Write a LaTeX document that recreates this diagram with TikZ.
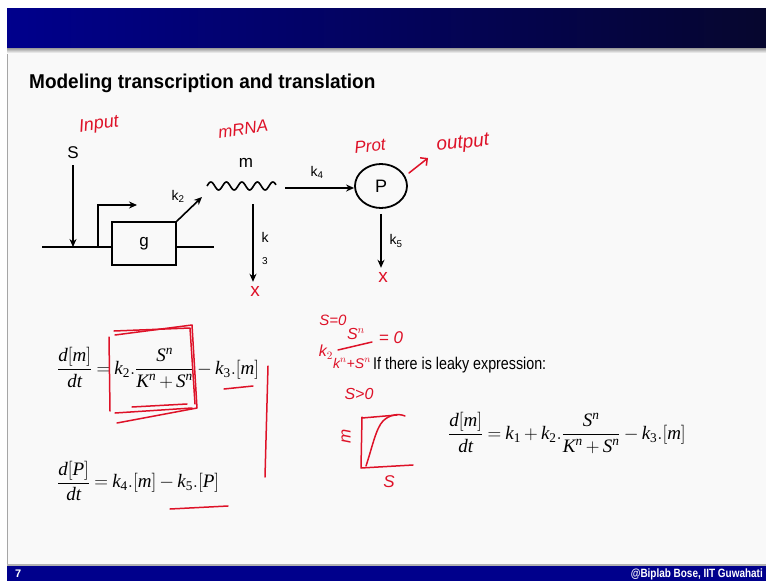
\RequirePackage{fix-cm}
\documentclass[tikz,border=0pt]{standalone}
\usepackage{amsmath}
\usepackage{graphicx}
\usepackage{fontspec}
\setmainfont{Liberation Sans}
\newfontfamily\eqfont{Liberation Serif}
\usetikzlibrary{arrows.meta,calc,shapes.geometric}
\definecolor{slideblue}{RGB}{0,0,140}
\definecolor{slidenavy}{RGB}{6,6,46}
\definecolor{inkred}{RGB}{222,18,40}
\definecolor{paper}{RGB}{249,249,249}
\newcommand{\vi}[1]{\textit{#1}}
\newcommand{\kk}[1]{\textit{k}_{\textup{#1}}}
\newcommand{\hill}{\dfrac{\vi{S}^{\vi{n}}}{\vi{K}^{\vi{n}}+\vi{S}^{\vi{n}}}}
\newcommand{\tightmath}{\medmuskip=3mu\relax\thickmuskip=4mu\relax}
\tikzset{
  wire/.style   = {line width=1.6pt},
  arr/.style    = {line width=1.6pt, -{Stealth[length=8pt,width=7pt]}},
  gbox/.style   = {draw, line width=1.6pt, fill=paper, minimum width=64pt,
                   minimum height=43pt, font=\fontsize{17}{17}\selectfont},
  pnode/.style  = {ellipse, draw, line width=1.8pt, fill=paper, minimum width=52pt,
                   minimum height=44pt, font=\fontsize{18}{18}\selectfont},
  lbl/.style    = {inner sep=0pt, font=\fontsize{17}{17}\selectfont},
  klbl/.style   = {inner sep=0pt, font=\fontsize{14}{14}\selectfont},
  eq/.style     = {inner sep=0pt, anchor=west, font=\eqfont\fontsize{19}{22}\selectfont},
  redpen/.style = {draw=inkred, line width=1.5pt, line cap=round, line join=round},
  hand/.style   = {text=inkred, inner sep=0pt, font=\itshape\fontsize{16}{16}\selectfont},
}

\begin{document}
\begin{tikzpicture}[x=1pt,y=-1pt]
  \useasboundingbox (0,0) rectangle (766,581);
  % slide frame
  \fill[white] (0,0) rectangle (766,581);
  \fill[paper] (7,48) rectangle (766,566);
  \draw[gray!70,line width=0.8pt] (7,48) -- (7,566);
  \shade[left color=slideblue,right color=slidenavy] (7,8) rectangle (766,48);
  \shade[top color=gray!80,bottom color=paper] (7,48) rectangle (766,53);
  \fill[gray!60] (7,564) rectangle (766,566);
  \fill[slideblue] (7,566) rectangle (766,581);
  \node[anchor=west,inner sep=0pt,text=white,font=\bfseries\fontsize{11}{11}\selectfont]
    (pageno) at (15,574) {7};
  \node[anchor=east,inner sep=0pt,text=white,font=\bfseries\fontsize{12}{12}\selectfont]
    (credit) at (763,574) {\scalebox{0.83}[1]{@Biplab Bose, IIT Guwahati}};
  \node[anchor=west,inner sep=0pt,font=\bfseries\fontsize{20}{20}\selectfont]
    (title) at (29,83) {\scalebox{0.95}[1]{Modeling transcription and translation}};

  % gene, mRNA and protein
  \coordinate (lineL) at (42,247);
  \coordinate (lineR) at (214,247);
  \draw[wire] (lineL) -- (lineR);
  \node[lbl] (S) at (73,153) {S};
  \coordinate (sfoot) at (73,247);
  \draw[arr] (S.south) ++(0,6) -- (sfoot);
  \coordinate (tss) at (98,247);
  \coordinate (tssup) at (98,205);
  \coordinate (tsshead) at (137,205);
  \draw[arr] (tss) -- (tssup) -- (tsshead);
  \node[gbox] (g) at (144,243.5) {g};
  \coordinate (mstart) at (202,197);
  \draw[arr] (g.north east) -- (mstart);
  \node[klbl] (k2) at (178,196) {k\textsubscript{2}};
  \node[lbl] (m) at (246,163) {m};
  \draw[wire] plot[domain=0:69,samples=90,smooth] ({207+\x},{186-4*sin((\x/15.5)*360)});
  \coordinate (mend) at (285,188);
  \node[pnode] (P) at (381,186) {P};
  \draw[arr] (mend) -- (P.west |- mend);
  \node[klbl] (k4) at (317,172) {k\textsubscript{4}};
  \coordinate (mdeg) at (253,204);
  \node[hand,font=\fontsize{19}{19}\selectfont] (xm) at (255,291) {x};
  \draw[arr] (mdeg) -- ($(xm.north)+(-2,-4)$);
  \node[klbl] (k3) at (265,237) {k};
  \node[inner sep=0pt,font=\fontsize{10}{10}\selectfont] (k3sub) at (265,261) {3};
  \node[hand,font=\fontsize{19}{19}\selectfont] (xp) at (383,277) {x};
  \draw[arr] ($(P.south)+(0,5)$) -- ($(xp.north)+(-2,-4)$);
  \node[klbl] (k5) at (396,241) {k\textsubscript{5}};

  % red notes on the diagram
  \node[hand,rotate=8,font=\itshape\fontsize{18}{18}\selectfont] (input) at (99,125) {Input};
  \node[hand,rotate=8,font=\itshape\fontsize{17}{17}\selectfont] (mrna) at (243,129) {mRNA};
  \node[hand,rotate=6,font=\itshape\fontsize{17}{17}\selectfont] (prot) at (370,146) {Prot};
  \node[hand,rotate=6,font=\itshape\fontsize{19}{19}\selectfont] (outlbl) at (463,144) {output};
  \coordinate (pout) at (409,173);
  \coordinate (outtip) at (428,158);
  \draw[redpen,-{Straight Barb[length=5pt]}] (pout) -- (outtip);

  % model equations
  \node[eq] (eqm) at (57,368)
    {$\tightmath\displaystyle\frac{\vi{d}[\vi{m}]}{\vi{dt}}=\kk{2}.\hill-\kk{3}.[\vi{m}]$};
  \node[eq] (eqp) at (57,481)
    {$\tightmath\displaystyle\frac{\vi{d}[\vi{P}]}{\vi{dt}}=\kk{4}.[\vi{m}]-\kk{5}.[\vi{P}]$};
  \node[anchor=west,inner sep=0pt,font=\fontsize{17}{17}\selectfont]
    (leaky) at (373,365) {\scalebox{0.84}[1]{If there is leaky expression:}};
  \node[eq] (eqleak) at (448,433)
    {$\tightmath\displaystyle\frac{\vi{d}[\vi{m}]}{\vi{dt}}=\kk{1}+\kk{2}.\hill-\kk{3}.[\vi{m}]$};

  % red marks on the equations
  \draw[redpen] (115,335) -- (192,325) -- (197,408) -- (117,423);
  \draw[redpen] (109,337) -- (110,411);
  \draw[redpen] (114,331) -- (190,328) -- (195,404);
  \draw[redpen] (115,413) -- (192,408);
  \draw[redpen] (132,407) -- (187,404);
  \draw[redpen] (224,389) -- (253,386);
  \draw[redpen] (268,366) -- (265,477);
  \draw[redpen] (170,509) -- (228,506);

  % red working in the middle
  \node[hand,font=\itshape\fontsize{15}{15}\selectfont] (szero) at (333,320) {S=0};
  \node[hand] (kfac) at (326,352) {k$_2$};
  \node[hand] (snum) at (356,334) {S$^n$};
  \draw[redpen] (338,350) -- (372,342);
  \node[hand,font=\itshape\fontsize{14}{14}\selectfont] (sden) at (352,363) {k$^n$+S$^n$};
  \node[hand,font=\itshape\fontsize{17}{17}\selectfont] (eqzero) at (391,338) {= 0};
  \node[hand] (spos) at (359,394) {S>0};
  \draw[redpen] (362,417) -- (361,468) -- (413,465);
  \draw[redpen] (362,418) -- (397,415);
  \draw[redpen] (366,466) .. controls (372,448) and (376,428) .. (383,421)
    .. controls (389,415) and (398,413) .. (405,416);
  \node[hand,rotate=90,font=\itshape\fontsize{17}{17}\selectfont] (axm) at (346,436) {m};
  \node[hand,font=\itshape\fontsize{17}{17}\selectfont] (axs) at (389,482) {S};
\end{tikzpicture}
\end{document}
